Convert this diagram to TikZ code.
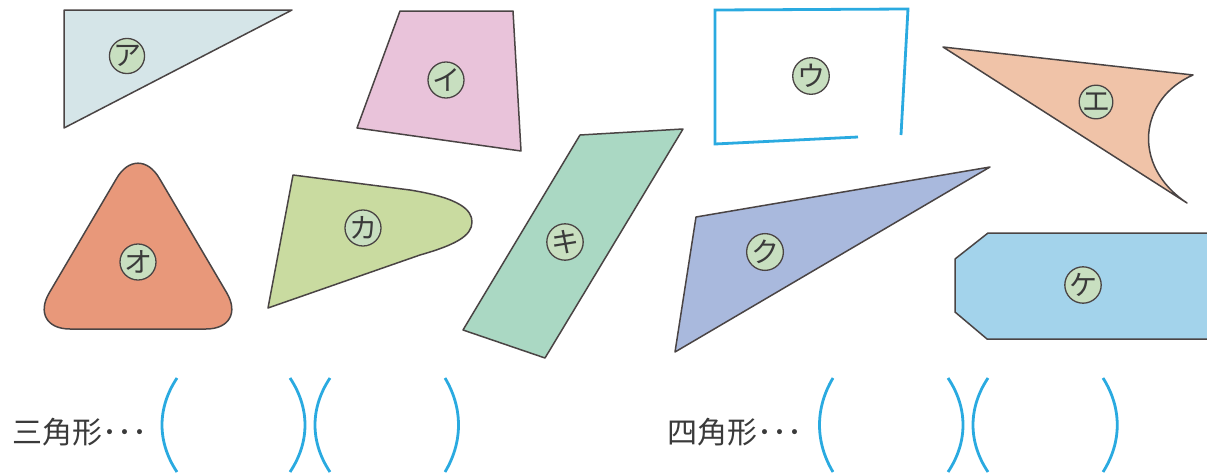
\documentclass[tikz,border=0pt]{standalone}
\usepackage{fontspec}
\newfontfamily\jp{Noto Sans CJK JP}
\definecolor{edge}{HTML}{4A4444}
\definecolor{pblue}{HTML}{2AAAE0}
\definecolor{cA}{HTML}{D5E5E8}
\definecolor{cI}{HTML}{E9C3DA}
\definecolor{cE}{HTML}{F0C3A8}
\definecolor{cO}{HTML}{E8987A}
\definecolor{cKa}{HTML}{C9DBA0}
\definecolor{cKi}{HTML}{AAD8C3}
\definecolor{cKu}{HTML}{A9B9DD}
\definecolor{cKe}{HTML}{A3D3EB}
\definecolor{lblfill}{HTML}{C8DFC0}
\definecolor{txt}{HTML}{3A3A3A}
\tikzset{
  shp/.style={draw=edge, line width=1.5pt, line join=round},
  lbl/.style={circle, draw=edge, line width=1.3pt, fill=lblfill, minimum size=33pt, inner sep=0pt, font=\jp\fontsize{28}{28}\selectfont, text=txt},
  paren/.style={draw=pblue, line width=2.8pt},
  captext/.style={anchor=west, font=\jp\fontsize{30}{30}\selectfont, text=txt, inner sep=0pt}
}
\begin{document}
\begin{tikzpicture}[x=1pt,y=-1pt]
\useasboundingbox (0,0) rectangle (1207,474);
\clip (0,0) rectangle (1207,474);
% ア
\path[shp, fill=cA] (64,10) -- (292,10) -- (64,128) -- cycle;
\node[lbl] (la) at (127,56) {ア};
% イ
\path[shp, fill=cI] (400,11) -- (513,11) -- (521,151) -- (357,128) -- cycle;
\node[lbl] (li) at (446,80) {イ};
% ウ
\draw[paren] (858,137) -- (715,144) -- (715,10) -- (908,9) -- (901,135);
\node[lbl] (lu) at (811,76) {ウ};
% エ
\path[shp, fill=cE] (943,47) -- (1193,75) .. controls (1140,98) and (1130,165) .. (1187,203) -- cycle;
\node[lbl] (le) at (1096,102) {エ};
% オ
\path[shp, fill=cO, rounded corners=42pt] (138,142) -- (248,329) -- (28,329) -- cycle;
\node[lbl] (lo) at (138,262) {オ};
% カ
\path[shp, fill=cKa] (268,308) -- (293,175) -- (410,190) .. controls (460,198) and (472,210) .. (472,222) .. controls (472,236) and (455,245) .. (420,255) -- cycle;
\node[lbl] (lka) at (363,228) {カ};
% キ
\path[shp, fill=cKi] (580,135) -- (683,129) -- (545,358) -- (463,330) -- cycle;
\node[lbl] (lki) at (565,242) {キ};
% ク
\path[shp, fill=cKu] (696,217) -- (990,167) -- (675,352) -- cycle;
\node[lbl] (lku) at (765,252) {ク};
% ケ
\path[shp, fill=cKe] (988,233) -- (1212,233) -- (1212,339) -- (987,339) -- (955,312) -- (955,259) -- cycle;
\node[lbl] (lke) at (1083,285) {ケ};
% captions
\node[captext] (t1) at (12,432) {三角形･･･};
\node[captext] (t2) at (667,432) {四角形･･･};
% parentheses
\draw[paren] (177,378) .. controls (157,408) and (157,442) .. (177,472);
\draw[paren] (290,378) .. controls (310,408) and (310,442) .. (290,472);
\draw[paren] (330,378) .. controls (310,408) and (310,442) .. (330,472);
\draw[paren] (445,378) .. controls (463,408) and (463,442) .. (445,472);
\draw[paren] (833,378) .. controls (815,408) and (815,442) .. (833,472);
\draw[paren] (948,378) .. controls (968,408) and (968,442) .. (948,472);
\draw[paren] (988,378) .. controls (968,408) and (968,442) .. (988,472);
\draw[paren] (1103,378) .. controls (1122,408) and (1122,442) .. (1103,472);
\end{tikzpicture}
\end{document}
